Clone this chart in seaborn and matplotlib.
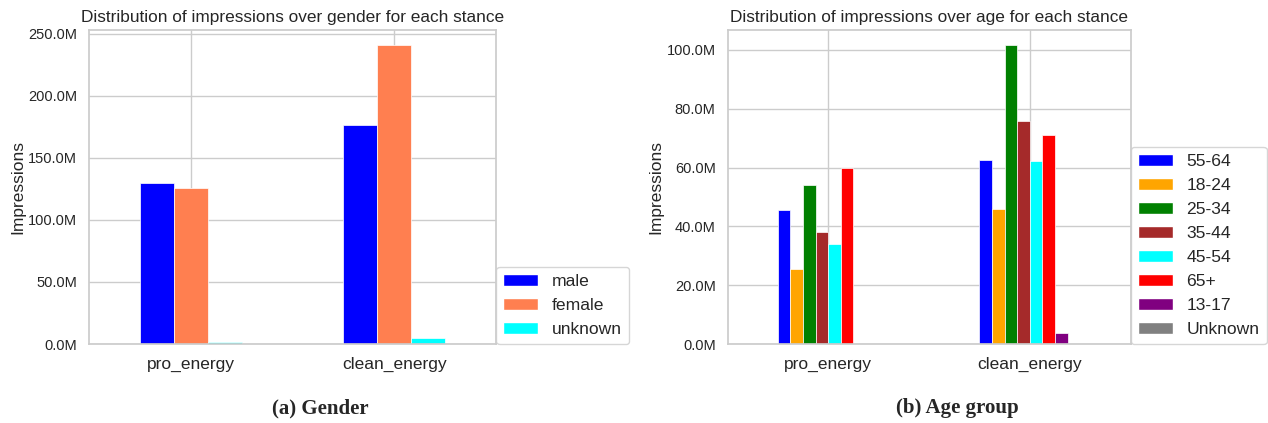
import numpy as np
import pandas as pd
import matplotlib
matplotlib.use("Agg")
import matplotlib.pyplot as plt
from matplotlib.ticker import FuncFormatter
import seaborn as sns

# Impressions per stance, split by gender and by age group
stances = ["pro_energy", "clean_energy"]

genders = ["male", "female", "unknown"]
gender_male = [130.2e6, 176.4e6]
gender_female = [125.7e6, 241.1e6]
gender_unknown = [1.8e6, 4.7e6]
gender_colors = ["blue", "coral", "cyan"]

ages = ["55-64", "18-24", "25-34", "35-44", "45-54", "65+", "13-17", "Unknown"]
age_pro_energy = [45.7e6, 25.6e6, 54.2e6, 38.1e6, 34.0e6, 59.8e6, 0.0, 0.0]
age_clean_energy = [62.6e6, 45.8e6, 101.7e6, 75.7e6, 62.4e6, 71.0e6, 3.6e6, 0.0]
age_colors = ["blue", "orange", "green", "brown", "cyan", "red", "purple", "grey"]

sns.set_theme(style="whitegrid")
plt.rcParams["font.family"] = ["Liberation Sans", "DejaVu Sans"]

gender_df = pd.DataFrame({
    "stance": stances * 3,
    "group": [g for g in genders for _ in stances],
    "impressions": gender_male + gender_female + gender_unknown,
})
age_values = {a: [p, c] for a, p, c in zip(ages, age_pro_energy, age_clean_energy)}
age_df = pd.DataFrame({
    "stance": stances * len(ages),
    "group": [a for a in ages for _ in stances],
    "impressions": [v for a in ages for v in age_values[a]],
})

fig = plt.figure(figsize=(12.68, 4.23), dpi=100)
ax_g = fig.add_axes([89 / 1268, 79 / 423, 407 / 1268, 314 / 423])
ax_a = fig.add_axes([727.5 / 1268, 79 / 423, 403 / 1268, 314 / 423])

millions = FuncFormatter(lambda v, _: f"{v / 1e6:.1f}M")


def draw(ax, df, order, colors, title):
    sns.barplot(data=df, x="stance", y="impressions", hue="group",
                order=stances, hue_order=order, palette=colors,
                width=0.5, saturation=1, errorbar=None,
                edgecolor="white", linewidth=0.5, ax=ax, legend=False)
    ax.xaxis.grid(True)
    ax.set_axisbelow(True)
    ax.set_xlim(-0.5, 1.5)
    ax.yaxis.set_major_formatter(millions)
    ax.set_xlabel("")
    ax.set_ylabel("Impressions", fontsize=12.5, labelpad=2)
    ax.set_title(title, fontsize=12.4)
    ax.tick_params(axis="x", labelsize=12.5)
    ax.tick_params(axis="y", labelsize=10.5, pad=2.5)
    handles = [plt.Rectangle((0, 0), 1, 1, facecolor=c, edgecolor="white")
               for c in colors]
    ax.legend(handles, order, loc="lower left", bbox_to_anchor=(1.0, 0.0),
              fontsize=12.6, borderaxespad=0.0)


draw(ax_g, gender_df, genders, gender_colors,
     "Distribution of impressions over gender for each stance")
draw(ax_a, age_df, ages, age_colors,
     "Distribution of impressions over age for each stance")

caption_font = dict(fontsize=15, fontweight="bold",
                    family=["Liberation Serif", "DejaVu Serif"])
fig.text(320 / 1268, 1 - 408 / 423, "(a) Gender", ha="center", va="center",
         **caption_font)
fig.text(957 / 1268, 1 - 408 / 423, "(b) Age group", ha="center", va="center",
         **caption_font)

fig.savefig("out.png", dpi=100)
